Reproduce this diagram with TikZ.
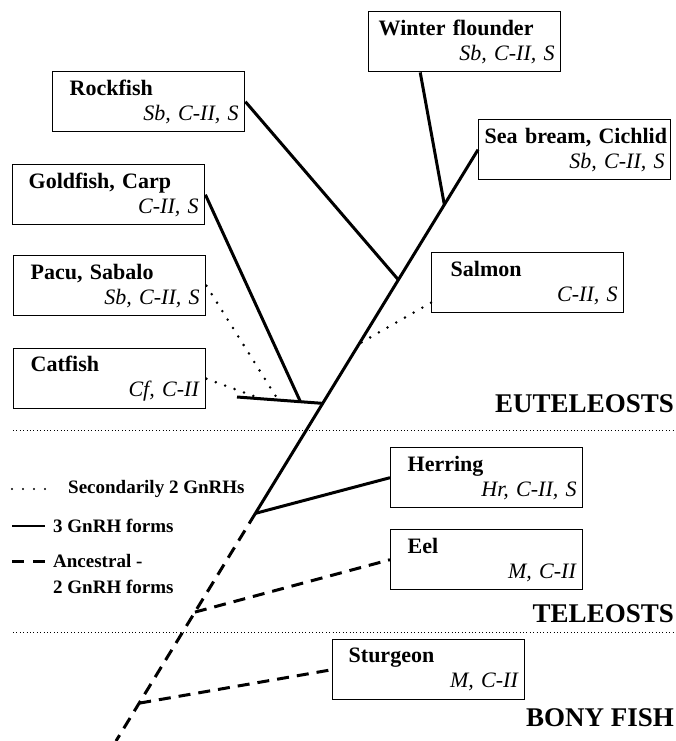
\documentclass[tikz,border=0pt]{standalone}
\usepackage{fontspec}
\setmainfont{Liberation Serif}
\usetikzlibrary{calc}

\tikzset{
	fishbox/.style={draw, line width=1.4pt, anchor=north west, minimum width=192pt,
		minimum height=60pt, text width=180pt, inner xsep=6pt, inner ysep=0pt,
		align=left, font=\fontsize{22}{25}\selectfont},
	grouplabel/.style={anchor=base east, inner sep=0pt, font=\fontsize{27}{30}\selectfont\bfseries},
	legendtext/.style={anchor=west, inner sep=0pt, align=left, font=\fontsize{19}{26}\selectfont\bfseries},
	three/.style={line width=3pt},
	second/.style={line width=2.8pt, line cap=round, dash pattern=on 0pt off 10pt},
	ancestral/.style={line width=3pt, dash pattern=on 12pt off 8pt},
	divider/.style={line width=1pt, dash pattern=on 1pt off 2.4pt},
}

\begin{document}
\begin{tikzpicture}[x=1pt, y=-1pt]
	\useasboundingbox (0,0) rectangle (676,741);
	
	% species boxes
	\node[fishbox] (wf) at (368,11) {\hspace*{4pt}\textbf{Winter flounder}\\\hspace*{\fill}\textit{Sb, C-II, S}};
	\node[fishbox] (rock) at (52,71) {\hspace*{11pt}\textbf{Rockfish}\\\hspace*{\fill}\textit{Sb, C-II, S}};
	\node[fishbox] (bream) at (478,119) {\mbox{\textbf{Sea bream, Cichlid}}\\\hspace*{\fill}\textit{Sb, C-II, S}};
	\node[fishbox] (gold) at (12,164) {\hspace*{10pt}\textbf{Goldfish, Carp}\\\hspace*{\fill}\textit{C-II, S}};
	\node[fishbox] (pacu) at (13,255) {\hspace*{11pt}\textbf{Pacu, Sabalo}\\\hspace*{\fill}\textit{Sb, C-II, S}};
	\node[fishbox] (salmon) at (431,252) {\hspace*{13pt}\textbf{Salmon}\\\hspace*{\fill}\textit{C-II, S}};
	\node[fishbox] (cat) at (13,348) {\hspace*{11pt}\textbf{Catfish}\\\hspace*{\fill}\textit{Cf, C-II}};
	\node[fishbox] (herring) at (390,447) {\hspace*{11pt}\textbf{Herring}\\\hspace*{\fill}\textit{Hr, C-II, S}};
	\node[fishbox] (eel) at (390,529) {\hspace*{11pt}\textbf{Eel}\\\hspace*{\fill}\textit{M, C-II}};
	\node[fishbox] (sturgeon) at (332,639) {\hspace*{10pt}\textbf{Sturgeon}\\\hspace*{\fill}\textit{M, C-II}};
	
	% group names and dividers
	\node[grouplabel] (eu) at (674,412) {EUTELEOSTS};
	\node[grouplabel] (tel) at (674,622) {TELEOSTS};
	\node[grouplabel] (bony) at (674,726) {BONY FISH};
	\coordinate (d1a) at (13,430);
	\coordinate (d1b) at (674,430);
	\coordinate (d2a) at (13,632);
	\coordinate (d2b) at (674,632);
	\draw[divider] (d1a) -- (d1b);
	\draw[divider] (d2a) -- (d2b);
	
	% points on the trunk
	\coordinate (root) at (116,741);
	\coordinate (jwf) at ($(root)!0.907!(bream.west)$);
	\coordinate (jrock) at ($(root)!0.780!(bream.west)$);
	\coordinate (jsalmon) at ($(root)!0.672!(bream.west)$);
	\coordinate (jcat) at ($(root)!0.571!(bream.west)$);
	\coordinate (vtx) at ($(root)!0.385!(bream.west)$);
	\coordinate (jeel) at ($(root)!0.218!(bream.west)$);
	\coordinate (jst) at ($(root)!0.064!(bream.west)$);
	\coordinate (cf0) at (237,397);
	\coordinate (cd) at ($(cf0)!0.28!(jcat)$);
	\coordinate (pd) at ($(cf0)!0.48!(jcat)$);
	\coordinate (gd) at ($(cf0)!0.74!(jcat)$);
	\coordinate (wfend) at ($(wf.south west)!0.27!(wf.south east)$);
	\coordinate (salend) at ($(salmon.west)+(0,20)$);
	
	% branches
	\draw[three] (bream.west) -- (vtx);
	\draw[ancestral] (vtx) -- (root);
	\draw[three] (wfend) -- (jwf);
	\draw[three] (rock.east) -- (jrock);
	\draw[second] (salend) -- (jsalmon);
	\draw[three] (cf0) -- (jcat);
	\draw[three] (gold.east) -- (gd);
	\draw[second] (pacu.east) -- (pd);
	\draw[second] (cat.east) -- (cd);
	\draw[three] (herring.west) -- (vtx);
	\draw[ancestral] (jeel) -- (eel.west);
	\draw[ancestral] (jst) -- (sturgeon.west);
	
	% legend
	\node[legendtext] (lsec) at (68,489) {Secondarily 2 GnRHs};
	\node[legendtext] (lthree) at (53,526) {3 GnRH forms};
	\node[legendtext] (lanc) at (53,574) {Ancestral -\\2 GnRH forms};
	\draw[second, line width=2.2pt, dash pattern=on 0pt off 11pt] ([xshift=-56pt]lsec.west) -- ([xshift=-22pt]lsec.west);
	\draw[three, line width=2pt] ([xshift=-41pt]lthree.west) -- ([xshift=-8pt]lthree.west);
	\draw[ancestral, dash pattern=on 12pt off 9pt] ([xshift=-41pt,yshift=13pt]lanc.west) -- ([xshift=-8pt,yshift=13pt]lanc.west);
\end{tikzpicture}
\end{document}
